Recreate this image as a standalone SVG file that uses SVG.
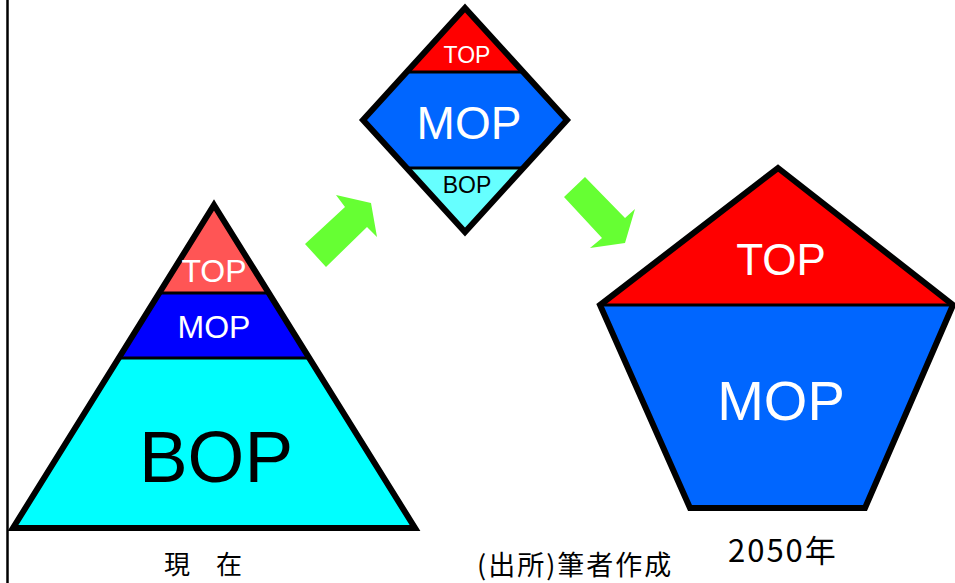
<svg xmlns="http://www.w3.org/2000/svg" width="955" height="583" viewBox="0 0 955 583">
<defs>
<clipPath id="cTri"><polygon points="214,205 415,528 13,528"/></clipPath>
<clipPath id="cDia"><polygon points="465,8 567,120 465,232 363,120"/></clipPath>
<clipPath id="cPen"><polygon points="778,168 953,305 865,508 690,508 600,305"/></clipPath>
</defs>
<style>
.out{stroke:#000;stroke-width:6;stroke-linejoin:miter;fill:none}
.div{stroke:#000;stroke-width:3}
.lat{font-family:"Liberation Sans",Arial,sans-serif;text-anchor:middle}
.cjk{font-family:"Noto Sans CJK JP",sans-serif;fill:#000}
.arrow{fill:#66FF33}
</style>
<rect width="955" height="583" fill="#fff"/>
<line x1="7.5" y1="0" x2="7.5" y2="583" stroke="#000" stroke-width="2.5"/>
<g id="pyramid">
<g clip-path="url(#cTri)">
<rect x="0" y="200" width="430" height="93" fill="#FF5555"/>
<rect x="0" y="293" width="430" height="65" fill="#0000FF"/>
<rect x="0" y="358" width="430" height="175" fill="#00FFFF"/>
<line class="div" x1="0" y1="293" x2="430" y2="293"/>
<line class="div" x1="0" y1="358" x2="430" y2="358"/>
</g>
<polygon class="out" points="214,205 415,528 13,528"/>
<text class="lat" x="214" y="282" font-size="32" fill="#fff">TOP</text>
<text class="lat" x="214" y="338" font-size="32" fill="#fff">MOP</text>
<text class="lat" x="216" y="482" font-size="73" fill="#000">BOP</text>
</g>
<g id="diamond">
<g clip-path="url(#cDia)">
<rect x="360" y="0" width="210" height="72" fill="#FF0000"/>
<rect x="360" y="72" width="210" height="96" fill="#0066FF"/>
<rect x="360" y="168" width="210" height="70" fill="#66FFFF"/>
<line class="div" x1="360" y1="72" x2="570" y2="72"/>
<line class="div" x1="360" y1="168" x2="570" y2="168"/>
</g>
<polygon class="out" points="465,8 567,120 465,232 363,120"/>
<text class="lat" x="467" y="63" font-size="23" fill="#fff">TOP</text>
<text class="lat" x="469" y="139" font-size="46" fill="#fff">MOP</text>
<text class="lat" x="467" y="193" font-size="23" fill="#000">BOP</text>
</g>
<g id="pentagon">
<g clip-path="url(#cPen)">
<rect x="595" y="160" width="365" height="145" fill="#FF0000"/>
<rect x="595" y="305" width="365" height="210" fill="#0066FF"/>
<line class="div" x1="595" y1="305" x2="960" y2="305" stroke-width="5"/>
</g>
<polygon class="out" points="778,168 953,305 865,508 690,508 600,305"/>
<text class="lat" x="781" y="275" font-size="44" fill="#fff">TOP</text>
<text class="lat" x="781" y="420" font-size="56" fill="#fff">MOP</text>
</g>
<g id="connectors">
<polygon class="arrow" points="305,244 326,267 367,227 377,237 371,203 336,195 345,207"/>
<polygon class="arrow" points="585,177 564,197 602,238 590,248 625,243 635,209 625,218"/>
</g>
<g id="labels">
<text class="cjk" x="164" y="574" font-size="26">現　在</text>
<text class="cjk" x="728" y="562" font-size="31" letter-spacing="2">2050年</text>
<text class="cjk" x="477" y="575" font-size="27" letter-spacing="2">(出所)筆者作成</text>
</g>
</svg>
